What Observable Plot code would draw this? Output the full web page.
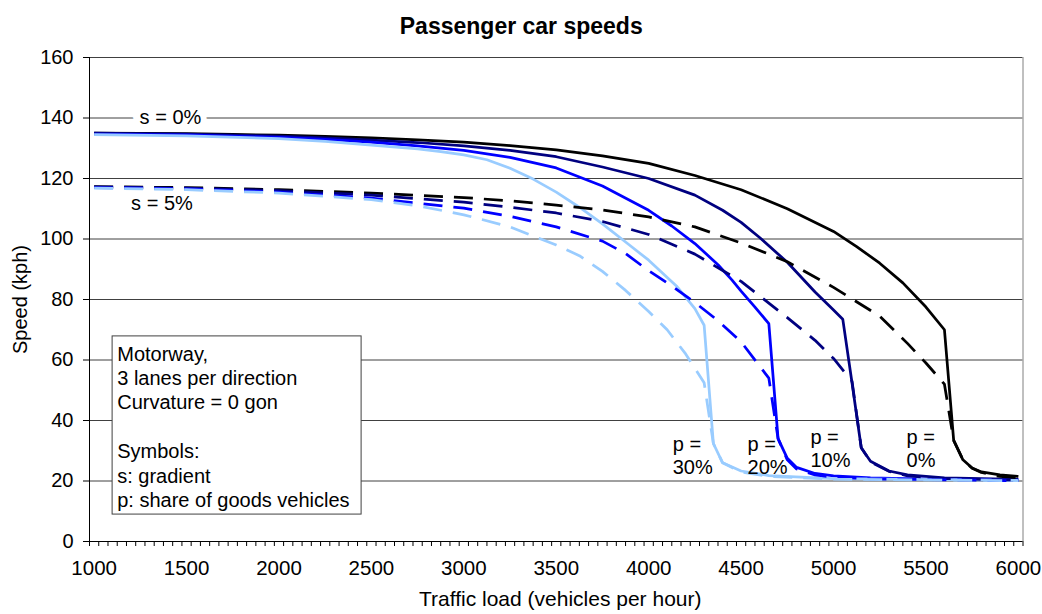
<!DOCTYPE html>
<html>
<head>
<meta charset="utf-8">
<script src="https://cdn.jsdelivr.net/npm/d3@7"></script>
<script src="https://cdn.jsdelivr.net/npm/@observablehq/plot@0.6"></script>
<style>
  html, body { margin: 0; padding: 0; background: #fff; }
  #chart { width: 1042px; height: 614px; }
</style>
</head>
<body>
<div id="chart"></div>
<script>
// ---------- DATA (traffic load in vehicles/hour, speed in kph) ----------
// s = 0% (solid lines)
const solidP0 = [[1000,135],[1250,134.9],[1500,134.8],[1750,134.6],[2000,134.3],[2250,133.9],[2500,133.4],[2750,132.8],[3000,132],[3250,130.9],[3500,129.5],[3750,127.5],[4000,125],[4250,121],[4500,116.3],[4750,110],[5000,102.5],[5125,97.5],[5250,92],[5375,85.5],[5500,77.5],[5600,70],[5650,33.4],[5700,27],[5750,24.3],[5800,23],[5900,22],[6000,21.5]];
const solidP10 = [[1000,135],[1500,134.7],[2000,134],[2250,133.4],[2500,132.7],[2750,131.9],[3000,130.8],[3250,129.3],[3500,127.2],[3750,123.8],[4000,120],[4250,114.5],[4400,109.5],[4500,105.5],[4600,100.5],[4750,92.3],[4900,82.5],[5000,76.5],[5050,73.5],[5100,52.5],[5150,31],[5200,26.5],[5300,23.3],[5400,22],[5600,21],[6000,20.5]];
const solidP20 = [[1000,134.7],[1500,134.4],[2000,133.6],[2250,132.9],[2500,132],[2750,130.8],[3000,129.3],[3250,127],[3500,123.5],[3750,117.5],[4000,109.5],[4125,104.3],[4250,98.5],[4375,91.5],[4450,86.5],[4500,82.8],[4575,77.5],[4650,72],[4700,34],[4750,27.5],[4800,24.5],[4900,22.5],[5000,21.7],[5200,21],[5500,20.6],[6000,20.3]];
const solidP30 = [[1000,134.5],[1500,134.1],[2000,133.2],[2250,132.3],[2500,131],[2750,129.8],[2875,128.9],[3000,127.8],[3125,126.2],[3250,123.4],[3375,119.8],[3500,115.5],[3625,110.5],[3750,105],[3875,99],[4000,93],[4150,84.5],[4250,77],[4300,71.5],[4350,32.4],[4400,26],[4500,23.3],[4650,21.8],[5000,20.8],[6000,20.2]];
// s = 5% (dashed lines)
const dashP0 = [[1000,117.3],[1500,117],[2000,116.3],[2500,115.2],[3000,113.7],[3250,112.6],[3500,111.2],[3750,109.6],[4000,107.3],[4250,104],[4500,98.7],[4750,92.5],[5000,84],[5250,74.5],[5400,65.5],[5500,59],[5600,52],[5650,33.4],[5700,27],[5750,24.2],[5800,22.8],[5900,21.5],[6000,21]];
const dashP10 = [[1000,117.2],[1500,116.8],[2000,116],[2500,114.5],[3000,112.2],[3250,110.5],[3500,108.6],[3750,105.8],[4000,101.5],[4250,95],[4500,86],[4750,74],[4900,66.5],[5000,60.5],[5100,53],[5150,31],[5200,26.3],[5300,23.2],[5400,21.7],[5600,20.8],[6000,20.3]];
const dashP20 = [[1000,117],[1500,116.6],[2000,115.5],[2500,113.5],[3000,110.2],[3250,107.5],[3500,104],[3750,99.3],[3875,95.2],[4000,89.5],[4125,84.5],[4250,79],[4375,73],[4500,66],[4650,54],[4700,34],[4750,27],[4800,24],[4900,22],[5000,21.3],[5200,20.7],[6000,20.1]];
const dashP30 = [[1000,116.8],[1500,116.3],[2000,115.2],[2500,113],[2750,111],[3000,108],[3250,104],[3500,98],[3625,94.5],[3750,89.3],[3875,83],[4000,76],[4100,70],[4200,62],[4300,52.5],[4350,32.4],[4400,26],[4500,23],[4650,21.5],[5000,20.6],[6000,20.1]];

// ---------- AXES / TEXT ----------
const yTicks = [0, 20, 40, 60, 80, 100, 120, 140, 160];
const yGrid = [20, 40, 60, 80, 100, 120, 140, 160];
const xTickLabels = [1000, 1500, 2000, 2500, 3000, 3500, 4000, 4500, 5000, 5500, 6000];
const xMinorTicks = d3.range(975, 6026, 50);
const titleText = "Passenger car speeds";
const xTitle = "Traffic load (vehicles per hour)";
const yTitle = "Speed (kph)";
const gradientLabels = [
  {text: "s = 0%", load: 1413, speed: 140, halo: true},
  {text: "s = 5%", load: 1367, speed: 111.7, halo: false}
];
const shareLabels = [
  {text: "p =\n30%", load: 4130, speed: 35.4},
  {text: "p =\n20%", load: 4535, speed: 35.4},
  {text: "p =\n10%", load: 4875, speed: 37.7},
  {text: "p =\n0%", load: 5395, speed: 37.7}
];
const noteLines = ["Motorway,", "3 lanes per direction", "Curvature = 0 gon", "", "Symbols:", "s: gradient", "p: share of goods vehicles"];
const noteBox = {x1: 1100, x2: 2447, y1: 8.9, y2: 67.8};
const noteAnchor = {load: 1125, speed: 65.5};

const series = [
  {data: solidP0, color: "#000000", dash: null},
  {data: solidP10, color: "#000080", dash: null},
  {data: solidP20, color: "#0000FF", dash: null},
  {data: solidP30, color: "#99CCFF", dash: null},
  {data: dashP0, color: "#000000", dash: "19,11"},
  {data: dashP10, color: "#000080", dash: "19,11"},
  {data: dashP20, color: "#0000FF", dash: "19,11"},
  {data: dashP30, color: "#99CCFF", dash: "19,11"}
];

const font = "'Liberation Sans', Arial, Helvetica, sans-serif";

const lineMarks = series.map(s => Plot.line(s.data, {
  x: d => d[0], y: d => d[1],
  stroke: s.color, strokeWidth: 2.75,
  strokeDasharray: s.dash || undefined,
  strokeLinejoin: "miter", strokeLinecap: "butt"
}));

const chart = Plot.plot({
  width: 1042,
  height: 614,
  marginLeft: 89,
  marginRight: 19.5,
  marginTop: 57,
  marginBottom: 73,
  x: {domain: [975, 6025]},
  y: {domain: [0, 160]},
  style: {fontFamily: font, fontSize: "20px", color: "black", background: "white"},
  marks: [
    Plot.ruleY(yGrid, {stroke: "#404040", strokeWidth: 1}),
    Plot.ruleX([6025], {stroke: "#808080", strokeWidth: 1}),
    ...lineMarks,
    Plot.text(gradientLabels.filter(d => d.halo), {x: "load", y: "speed", text: "text", fontSize: 20, fill: "black", stroke: "white", strokeWidth: 12, strokeLinejoin: "miter"}),
    Plot.text(gradientLabels.filter(d => !d.halo), {x: "load", y: "speed", text: "text", fontSize: 20, fill: "black"}),
    Plot.text(shareLabels, {x: "load", y: "speed", text: "text", fontSize: 20, fill: "black", textAnchor: "start", lineAnchor: "top", lineHeight: 1.15}),
    Plot.rect([noteBox], {x1: "x1", x2: "x2", y1: "y1", y2: "y2", fill: "white", stroke: "#404040", strokeWidth: 1}),
    Plot.text([noteLines.join("\n")], {x: noteAnchor.load, y: noteAnchor.speed, fontSize: 20, fill: "black", textAnchor: "start", lineAnchor: "top", lineHeight: 1.22}),
    Plot.ruleY([0], {stroke: "black", strokeWidth: 1}),
    Plot.ruleX([975], {stroke: "black", strokeWidth: 1}),
    Plot.axisY({ticks: yTicks, tickSize: 6, tickPadding: 10, label: null, fontSize: 20, tickFormat: d => String(d)}),
    Plot.axisX({ticks: xMinorTicks, tickSize: 5, label: null, tickFormat: () => ""}),
    Plot.axisX({ticks: xTickLabels, tickSize: 0, tickPadding: 19, label: null, fontSize: 20.5, tickFormat: d => String(d)}),
    Plot.text([titleText], {frameAnchor: "top", lineAnchor: "middle", textAnchor: "middle", dy: -31, dx: -35, fontSize: 23, fontWeight: "bold", fill: "black"}),
    Plot.text([xTitle], {frameAnchor: "bottom", lineAnchor: "middle", textAnchor: "middle", dy: 58, dx: 4, fontSize: 21, fill: "black"}),
    Plot.text([yTitle], {frameAnchor: "left", lineAnchor: "middle", textAnchor: "middle", dx: -69, rotate: -90, fontSize: 20, fill: "black"})
  ]
});
document.getElementById("chart").appendChild(chart);
</script>
</body>
</html>
